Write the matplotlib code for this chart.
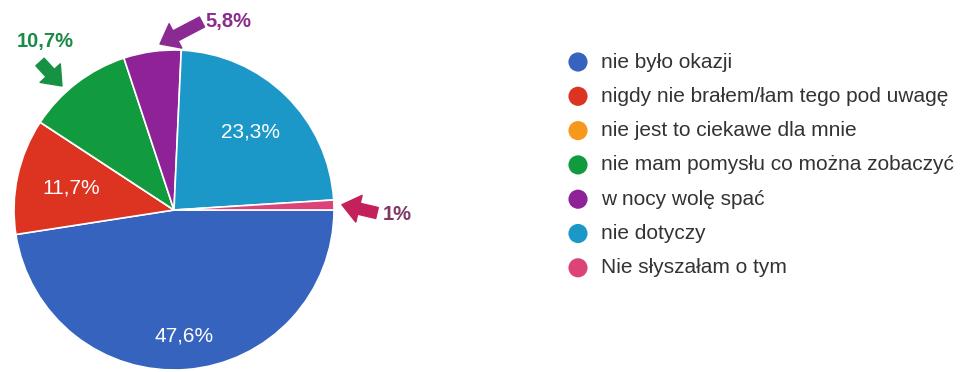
import numpy as np
import matplotlib
matplotlib.use('Agg')
import matplotlib.pyplot as plt

plt.rcParams['font.family'] = ['Liberation Sans', 'DejaVu Sans']

categories = ['nie było okazji', 'nigdy nie brałem/łam tego pod uwagę',
              'nie jest to ciekawe dla mnie', 'nie mam pomysłu co można zobaczyć',
              'w nocy wolę spać', 'nie dotyczy', 'Nie słyszałam o tym']
shares = [47.6, 11.7, 0.0, 10.7, 5.8, 23.3, 1.0]
pct_labels = ['47,6%', '11,7%', '', '10,7%', '5,8%', '23,3%', '1%']
colors = ['#3563bd', '#dc3420', '#f7981d', '#129a3f', '#8e2296', '#1b98c8', '#dc4479']

W, H = 966, 372


def py(y):
    # pixel row (top-down) -> data y (bottom-up)
    return H - y


fig = plt.figure(figsize=(W / 100, H / 100), dpi=100)
ax = fig.add_axes([0, 0, 1, 1])

cx, cy, R = 174, py(210), 160
wedges, _ = ax.pie(shares, colors=colors, startangle=0, counterclock=False,
                   center=(cx, cy), radius=R,
                   wedgeprops=dict(edgecolor='white', linewidth=1.2))
ax.set_xlim(0, W)
ax.set_ylim(0, H)
ax.set_aspect('equal')
ax.axis('off')


def mid_angle(w):
    return np.radians((w.theta1 + w.theta2) / 2)


# labels inside the large slices
inside = {0: 0.79, 1: 0.66, 5: 0.68}
for i, frac in inside.items():
    a = mid_angle(wedges[i])
    ax.text(cx + frac * R * np.cos(a), cy + frac * R * np.sin(a), pct_labels[i],
            color='white', fontsize=15, ha='center', va='center')

# small slices get an arrow and a bold label outside
outside = [
    # index, arrow tail (px), label position (px), arrow colour, text colour
    (3, (40, 62), (45, 42), '#179244', '#1b8a47'),
    (4, (202, 22), (228, 22), '#8c2a93', '#8a2d8e'),
    (6, (377, 213), (397, 215), '#c4215c', '#7e3862'),
]
for i, tail, lab, acol, tcol in outside:
    a = np.radians(wedges[i].theta1 - 0.5 * (wedges[i].theta1 - wedges[i].theta2))
    tip = (cx + 1.05 * R * np.cos(a), cy + 1.05 * R * np.sin(a))
    if i == 3:
        tip = (62, py(86))
    elif i == 4:
        tip = (160, py(44))
    ax.annotate('', xy=tip, xytext=(tail[0], py(tail[1])),
                arrowprops=dict(arrowstyle='simple,head_length=0.7,head_width=1.1,tail_width=0.45',
                                color=acol, shrinkA=0, shrinkB=0, mutation_scale=18))
    ax.text(lab[0], py(lab[1]), pct_labels[i], color=tcol, fontsize=14.5,
            fontweight='bold', ha='center', va='center')

# legend
lx, ly0, dy = 578, 62, 34.3
for k, (name, col) in enumerate(zip(categories, colors)):
    y = py(ly0 + k * dy)
    ax.scatter([lx], [y], s=190, color=col, edgecolors='none')
    ax.text(lx + 23, y, name, color='#333333', fontsize=15, ha='left', va='center')

fig.savefig('out.png', dpi=100)
